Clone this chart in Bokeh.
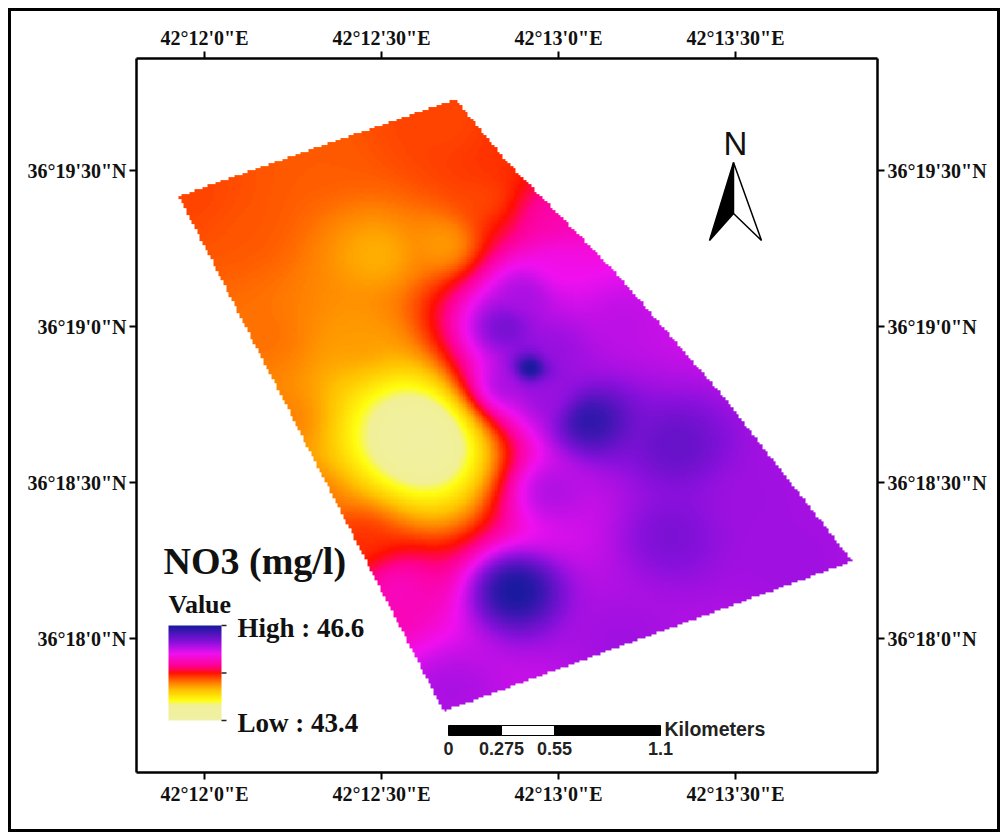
import numpy as np
from bokeh.embed import file_html
from bokeh.resources import INLINE
from bokeh.plotting import figure
from bokeh.models import (LinearAxis, FixedTicker, LinearColorMapper, Range1d, Label)

# Map coordinates: arc-seconds east of 42°12'0" and north of 36°18'0"
X_TICKS = [0, 30, 60, 90]
X_LABELS = ["42°12'0\"E", "42°12'30\"E", "42°13'0\"E", "42°13'30\"E"]
Y_TICKS = [0, 30, 60, 90]
Y_LABELS = ["36°18'0\"N", "36°18'30\"N", "36°19'0\"N", "36°19'30\"N"]

# Study-area boundary
AREA_X = [-4.41, 42.54, 51.02, 69.32, 87.46, 109.83, 40.51]
AREA_Y = [85.0, 103.65, 91.92, 70.77, 47.12, 14.81, -14.04]

# NO3 readings at sampling locations (mg/l), with spread and weight of each reading
WELL_X = [37.97, 29.49, 40.85, 6.1, 19.66, 41.7, 49.3, 48.47, 26.44, 14.6, 17.97, 26.44,
          -1.5, 11.19,
          51.02, 55.25, 65.08, 79.83, 78.98, 52.71, 57.8, 59.49, 70.5, 54.4,
          59.5, 57.8, 51.0,
          92.54, 99.3, 41.7, 70.5, 58.64, 32.4]
WELL_Y = [39.04, 73.65, 75.58, 78.46, 93.85, 98.66, 91.0, 84.2, 57.3, 41.9, 26.54, 18.85,
          84.2, 57.3,
          59.81, 51.92, 41.92, 37.12, 19.81, 9.23, 81.35, 70.77, 61.15, 66.0,
          55.4, 46.7, 48.65,
          26.54, 15.0, -10.0, -0.38, 28.46, 10.2]
WELL_NO3 = [43.4, 44.45, 44.5, 44.78, 44.76, 44.82, 44.88, 44.76, 44.55, 44.7, 44.76, 44.9,
            44.84, 44.72,
            46.2, 46.62, 46.55, 46.25, 46.15, 46.62, 45.4, 45.62, 45.88, 45.95,
            46.0, 46.0, 45.95,
            45.98, 45.98, 45.95, 45.98, 45.95, 45.52]
WELL_SPREAD = [9, 4, 4, 6, 6, 5, 5, 5, 5, 6, 6, 4,
               5, 6,
               3, 0.8, 3, 4, 5, 2.5, 5, 4, 5, 3,
               3, 3, 3,
               5, 5, 5, 5, 4, 5]
WELL_WEIGHT = [7, 1, 1, 1, 1, 1, 1, 1, 1, 1, 1, 1,
               1, 1,
               1, 0.25, 1, 1, 1, 0.6, 1, 1, 1, 1,
               1, 1, 1,
               1, 1, 1, 1, 1, 1]

# Colour ramp
RAMP_VALUES = [43.4, 43.9, 44.05, 44.41, 44.65, 44.99, 45.25, 45.66, 46.06, 46.6]
RAMP_COLORS = ["#F0F0A8", "#F2F098", "#FFFF10", "#FFC000", "#FF8000", "#FF1000",
               "#FF0090", "#F010F0", "#8A10DC", "#1A1AA0"]
LOW, HIGH = 43.4, 46.6
SCALE_KM = [0, 0.275, 0.55, 1.1]
SCALE_LABELS = ["0", "0.275", "0.55", "1.1"]
SEC_PER_KM = 32.67

# Frame geometry in page pixels
FL, FR, FT, FB = 136, 877, 58, 772
SX, SY = 30 / 177, 30 / 156
def px(x): return (x - 204) * SX
def py(y): return (638 - y) * SY

xr = Range1d(px(FL), px(FR))
yr = Range1d(py(FB), py(FT))

FRAME_CSS = (":host::after{content:'';position:absolute;left:0;top:0;right:0;bottom:0;"
             "border:3.5px solid #000;box-sizing:border-box;pointer-events:none;z-index:100}")

p = figure(width=992, height=824, x_range=xr, y_range=yr, output_backend="svg",
           toolbar_location=None, x_axis_type=None, y_axis_type=None,
           min_border_left=FL - 8, min_border_right=1000 - FR, min_border_top=FT - 8,
           min_border_bottom=832 - FB, outline_line_color=None,
           background_fill_color="white", border_fill_color="white",
           margin=(8, 2, 0, 8), stylesheets=[FRAME_CSS])
p.grid.visible = False

def stops_to_palette(n=256):
    vals = np.linspace(LOW, HIGH, n)
    rgb = np.array([[int(c[i:i + 2], 16) for i in (1, 3, 5)] for c in RAMP_COLORS], float)
    chans = [np.interp(vals, RAMP_VALUES, rgb[:, k]) for k in range(3)]
    return ["#%02X%02X%02X" % (int(r), int(g), int(b)) for r, g, b in zip(*chans)]

mapper = LinearColorMapper(palette=stops_to_palette(), low=LOW, high=HIGH, nan_color="#00000000")

# Smoothed inverse-distance surface clipped to the boundary
CELL = 0.45
gx = np.arange(min(AREA_X), max(AREA_X) + CELL, CELL)
gy = np.arange(min(AREA_Y), max(AREA_Y) + CELL, CELL)
GX, GY = np.meshgrid(gx + CELL / 2, gy + CELL / 2)
wx, wy, wv, wr, wa = map(np.array, (WELL_X, WELL_Y, WELL_NO3, WELL_SPREAD, WELL_WEIGHT))
d2 = (GX[..., None] - wx) ** 2 + (GY[..., None] - wy) ** 2 + wr ** 2
w = wa * d2 ** -1.5
Z = (w * wv).sum(-1) / w.sum(-1)

def inside(X, Y, px_, py_):
    res = np.zeros(X.shape, bool)
    n = len(px_)
    for i in range(n):
        x0, y0, x1, y1 = px_[i], py_[i], px_[(i + 1) % n], py_[(i + 1) % n]
        c = ((y0 > Y) != (y1 > Y)) & (X < (x1 - x0) * (Y - y0) / (y1 - y0 + 1e-12) + x0)
        res ^= c
    return res

Z[~inside(GX, GY, AREA_X, AREA_Y)] = np.nan
p.image(image=[Z], x=gx[0], y=gy[0], dw=gx[-1] - gx[0] + CELL, dh=gy[-1] - gy[0] + CELL,
        color_mapper=mapper)

# Axes on all four sides
SERIF = "Liberation Serif"
def style(ax, ticks, labels):
    ax.ticker = FixedTicker(ticks=ticks)
    ax.major_label_overrides = dict(zip(ticks, labels))
    ax.axis_line_width = 2.5
    ax.axis_line_color = "black"
    ax.major_tick_line_width = 2
    ax.major_tick_line_color = "black"
    ax.major_tick_in = 0
    ax.major_tick_out = 7
    ax.minor_tick_line_color = None
    ax.major_label_text_font = SERIF
    ax.major_label_text_font_style = "bold"
    ax.major_label_text_font_size = "20px"
    ax.major_label_text_color = "#111111"
    ax.major_label_standoff = 3
    ax.major_label_orientation = "horizontal"

for side, ticks, labels in (("below", X_TICKS, X_LABELS), ("above", X_TICKS, X_LABELS),
                            ("left", Y_TICKS, Y_LABELS), ("right", Y_TICKS, Y_LABELS)):
    ax = LinearAxis()
    style(ax, ticks, labels)
    p.add_layout(ax, side)

# Legend
ramp = np.linspace(LOW, HIGH, 96).reshape(-1, 1)
p.image(image=[ramp], x=px(168), y=py(720), dw=px(221) - px(168), dh=py(625) - py(720),
        color_mapper=mapper)
for v in (HIGH, (LOW + HIGH) / 2, LOW):
    yy = py(720) + (v - LOW) / (HIGH - LOW) * (py(625) - py(720))
    p.segment(px(221), yy, px(226), yy, line_color="#222222", line_width=1.5)

def label(x, y, text, size, font=SERIF, style_="bold", align="left", base="middle", color="#111111"):
    p.add_layout(Label(x=px(x), y=py(y), text=text, text_font=font, text_font_style=style_,
                       text_font_size=size, text_align=align, text_baseline=base, text_color=color))

label(163, 560, "NO3 (mg/l)", "38px")
label(168, 604, "Value", "26px")
label(237, 627, "High : 46.6", "27px")
label(237, 722, "Low : 43.4", "27px")

# Scale bar
x0 = px(448)
kms = np.array(SCALE_KM) * SEC_PER_KM + x0
y_lo, y_hi = py(735), py(725)
p.quad(left=kms[:-1], right=kms[1:], bottom=y_lo, top=y_hi,
       fill_color=["black", "white", "black"], line_color="black", line_width=1)
for k, t in zip(kms, SCALE_LABELS):
    p.add_layout(Label(x=k, y=py(748), text=t, text_font="Liberation Sans", text_font_style="bold",
                       text_font_size="18px", text_align="center", text_baseline="middle",
                       text_color="#222222"))
label(664, 728, "Kilometers", "19.5px", font="Liberation Sans", color="#222222")

# North arrow
p.patch([px(733), px(709), px(733)], [py(162), py(240), py(213)], fill_color="black",
        line_color="black", line_width=1.5)
p.patch([px(733), px(761), px(733)], [py(162), py(240), py(213)], fill_color="white",
        line_color="black", line_width=1.5)
label(735, 143, "N", "33px", font="Liberation Sans", style_="normal", align="center")

open("out.html", "w").write(file_html(p, INLINE))
